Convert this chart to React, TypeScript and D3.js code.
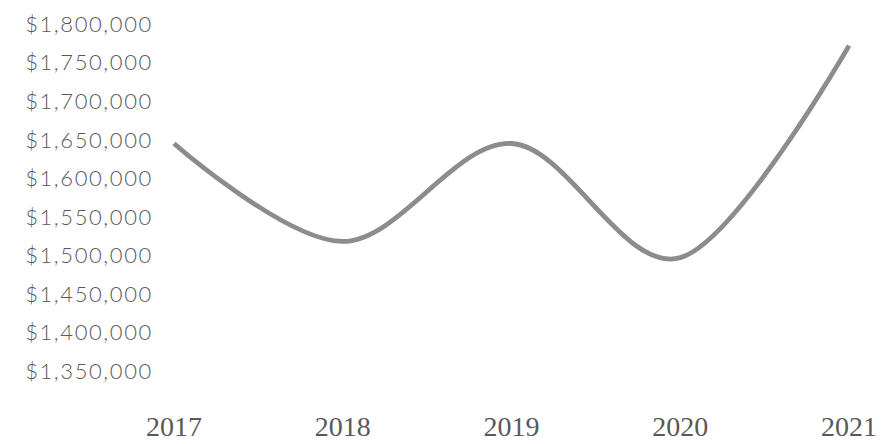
import React from "react";
import * as d3 from "d3";

const years = ["2017", "2018", "2019", "2020", "2021"];
const revenue = [1645000, 1518000, 1645000, 1497000, 1772000];
const yTicks = [1350000, 1400000, 1450000, 1500000, 1550000, 1600000, 1650000, 1700000, 1750000, 1800000];

const W = 883;
const H = 444;

export default function App() {
  const x = d3.scalePoint<string>().domain(years).range([174, 849]);
  const y = d3.scaleLinear().domain([1350000, 1800000]).range([371, 24]);
  const fmt = (v: number) => "$" + d3.format(",")(v);
  const line = d3
    .line<number>()
    .x((_, i) => x(years[i]) as number)
    .y((d) => y(d))
    .curve(d3.curveCardinal.tension(0));
  return (
    <svg
      width={W}
      height={H}
      style={{ position: "absolute", left: 0, top: 0, background: "#fff" }}
    >
      {yTicks.map((t) => (
        <text
          key={t}
          x={89}
          y={y(t)}
          dy="0.36em"
          textAnchor="middle"
          fill="#595959"
          style={{ fontFamily: "Lato, 'Open Sans', sans-serif", fontSize: 22, fontWeight: 300, letterSpacing: 1.6 }}
        >
          {fmt(t)}
        </text>
      ))}
      {years.map((yr) => (
        <text
          key={yr}
          x={x(yr)}
          y={436}
          textAnchor="middle"
          fill="#595959"
          style={{ fontFamily: "'Liberation Serif', serif", fontSize: 28 }}
        >
          {yr}
        </text>
      ))}
      <path d={line(revenue) || ""} fill="none" stroke="#8c8c8c" strokeWidth={4.8} strokeLinecap="butt" />
    </svg>
  );
}
